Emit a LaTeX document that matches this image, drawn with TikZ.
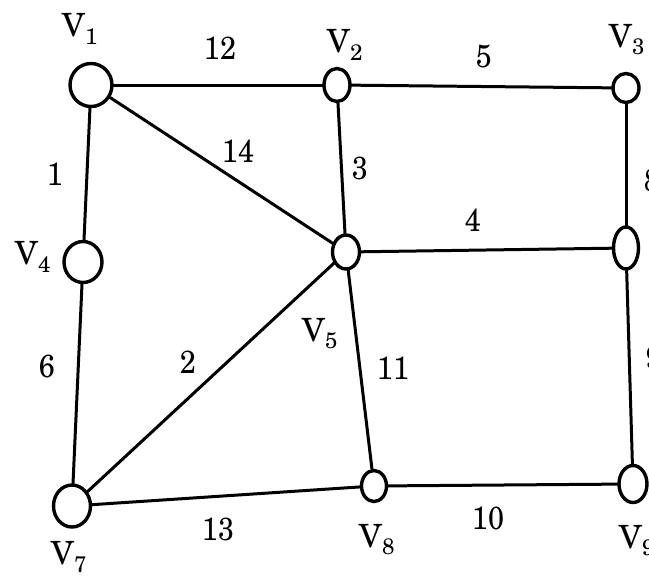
\documentclass[tikz,border=0pt]{standalone}
\usepackage{fontspec}
\setmainfont{texgyreschola-regular.otf}
\newfontfamily\numfont[FakeStretch=0.9]{texgyreschola-regular.otf}
\usetikzlibrary{shapes.geometric}
\newcommand\vlab[1]{V\textsubscript{#1}}
\begin{document}
\begin{tikzpicture}[x=1pt,y=-1pt,
  vtx/.style={draw,ellipse,line width=3.4pt,inner sep=0pt},
  edge/.style={line width=3pt,line cap=round},
  lbl/.style={font=\fontsize{32}{36}\selectfont,inner sep=0pt},
  num/.style={font=\fontsize{32}{36}\numfont,inner sep=0pt}]
\useasboundingbox (0,0) rectangle (649,579);
\clip (0,0) rectangle (649,579);
% vertices
\node[vtx,minimum width=42pt,minimum height=43pt] (v1) at (91,85) {};
\node[vtx,minimum width=26pt,minimum height=33pt] (v2) at (337,85) {};
\node[vtx,minimum width=26pt,minimum height=29pt] (v3) at (626,88) {};
\node[vtx,minimum width=38pt,minimum height=41pt] (v4) at (83,262) {};
\node[vtx,minimum width=27pt,minimum height=34pt] (v5) at (346,252) {};
\node[vtx,minimum width=25pt,minimum height=42pt] (v6) at (626,248) {};
\node[vtx,minimum width=37pt,minimum height=42pt] (v7) at (72,506) {};
\node[vtx,minimum width=25pt,minimum height=31pt] (v8) at (374,486) {};
\node[vtx,minimum width=28pt,minimum height=37pt] (v9) at (633,484) {};
% vertex labels
\node[lbl] (l1) at (80,29) {\vlab{1}};
\node[lbl] (l2) at (345,45) {\vlab{2}};
\node[lbl] (l3) at (627,40) {\vlab{3}};
\node[lbl] (l4) at (33,257) {\vlab{4}};
\node[lbl] (l5) at (320,334) {\vlab{5}};
\node[lbl] (l7) at (69,557) {\vlab{7}};
\node[lbl] (l8) at (377,540) {\vlab{8}};
\node[lbl] (l9) at (637,541) {\vlab{9}};
% edges
\draw[edge] (v1) -- (v2);
\draw[edge] (v2) -- (v3);
\draw[edge] (v1) -- (v5);
\draw[edge] (v2) -- (v5);
\draw[edge] (v3) -- (v6);
\draw[edge] (v1) -- (v4);
\draw[edge] (v5) -- (v6);
\draw[edge] (v4) -- (v7);
\draw[edge] (v7) -- (v5);
\draw[edge] (v5) -- (v8);
\draw[edge] (v6) -- (v9);
\draw[edge] (v7) -- (v8);
\draw[edge] (v8) -- (v9);
% edge labels
\node[num] (w12) at (220,48) {12};
\node[num] (w5) at (484,56) {5};
\node[num] (w14) at (238,151) {14};
\node[num] (w3) at (360,168) {3};
\node[num] (w8) at (652,180) {8};
\node[num] (w1) at (55,174) {1};
\node[num] (w4) at (473,220) {4};
\node[num] (w6) at (47,366) {6};
\node[num] (w2) at (188,362) {2};
\node[num] (w11) at (393,368) {11};
\node[num] (w9) at (654,357) {9};
\node[num] (w13) at (218,529) {13};
\node[num] (w10) at (488,518) {10};
\end{tikzpicture}
\end{document}
